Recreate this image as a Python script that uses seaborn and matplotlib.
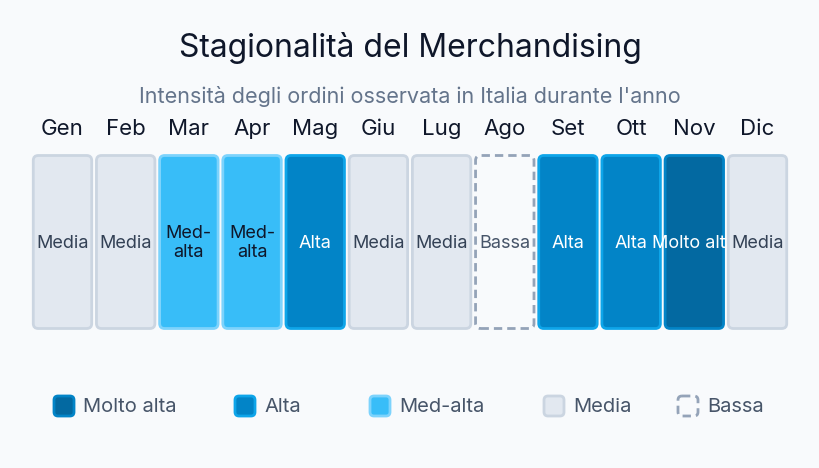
import matplotlib
matplotlib.use("Agg")
import pandas as pd
import matplotlib.pyplot as plt
import seaborn as sns
from matplotlib.patches import FancyBboxPatch

# data
months = ["Gen", "Feb", "Mar", "Apr", "Mag", "Giu", "Lug", "Ago", "Set", "Ott", "Nov", "Dic"]
levels = ["Media", "Media", "Med-alta", "Med-alta", "Alta", "Media",
          "Media", "Bassa", "Alta", "Alta", "Molto alta", "Media"]
legend_order = ["Molto alta", "Alta", "Med-alta", "Media", "Bassa"]

title = "Stagionalità del Merchandising"
subtitle = "Intensità degli ordini osservata in Italia durante l'anno"

BG = "#f8fafc"
fills = {"Molto alta": "#0369a1", "Alta": "#0284c7", "Med-alta": "#38bdf8",
         "Media": "#e2e8f0", "Bassa": BG}
edges = {"Molto alta": "#0284c7", "Alta": "#0ea5e9", "Med-alta": "#7dd3fc",
         "Media": "#cbd5e1", "Bassa": "#94a3b8"}
text_colors = {"Molto alta": "white", "Alta": "white", "Med-alta": "#0f172a",
               "Media": "#334155", "Bassa": "#475569"}

sns.set_theme(style="white")
plt.rcParams["font.family"] = ["Inter", "DejaVu Sans"]

fig = plt.figure(figsize=(8.2, 4.68), dpi=100, facecolor=BG)
W, H = 820, 468

# main strip axes (pixel placement)
left_px, right_px, top_px, bot_px = 30.9, 789.1, 155.5, 328.5
ax = fig.add_axes([left_px / W, 1 - bot_px / H, (right_px - left_px) / W, (bot_px - top_px) / H])
ax.set_facecolor("none")

df = pd.DataFrame({"mese": months, "livello": levels, "valore": [1.0] * len(months)})
sns.barplot(data=df, x="mese", y="valore", order=months, color="#cccccc",
            width=0.925, errorbar=None, ax=ax)
ax.set_ylim(0, 1)
ax.set_xlim(-0.5, len(months) - 0.5)

# px per data unit, for rounded corners
px_x = (right_px - left_px) / len(months)
px_y = bot_px - top_px
aspect = (1 / px_y) / (1 / px_x)
radius = 5 / px_x

for i, bar in enumerate(list(ax.patches)):
    x, y = bar.get_x(), bar.get_y()
    w, h = bar.get_width(), bar.get_height()
    bar.set_visible(False)
    lvl = levels[i]
    box = FancyBboxPatch((x, y), w, h,
                         boxstyle=f"round,pad=0,rounding_size={radius}",
                         mutation_aspect=aspect,
                         facecolor=fills[lvl], edgecolor=edges[lvl], linewidth=2,
                         linestyle=(0, (3, 1.8)) if lvl == "Bassa" else "-",
                         zorder=3 + 2 * i, clip_on=False)
    ax.add_patch(box)
    ax.text(x + w / 2, y + h / 2 - 0.006, lvl.replace("-", "-\n"), ha="center", va="center",
            fontsize=13, color=text_colors[lvl], linespacing=1.1,
            zorder=4 + 2 * i, clip_on=False)

ax.xaxis.tick_top()
ax.tick_params(axis="x", length=0, pad=12, labelsize=16, labelcolor="#0f172a")
ax.set_yticks([])
ax.set_xlabel("")
ax.set_ylabel("")
sns.despine(ax=ax, left=True, bottom=True, top=True, right=True)

# overlay in pixel coords for titles and legend
oax = fig.add_axes([0, 0, 1, 1])
oax.set_xlim(0, W)
oax.set_ylim(H, 0)
oax.axis("off")
oax.patch.set_visible(False)

oax.text(W / 2, 57, title, ha="center", va="baseline", fontsize=23, color="#0f172a")
oax.text(W / 2, 103, subtitle, ha="center", va="baseline", fontsize=15.5, color="#64748b")

legend_x = [54, 235, 370, 544, 678]
for lx, lvl in zip(legend_x, legend_order):
    m = FancyBboxPatch((lx, 396), 20, 20, boxstyle="round,pad=0,rounding_size=4",
                       facecolor=fills[lvl], edgecolor=edges[lvl], linewidth=2,
                       linestyle=(0, (3, 1.8)) if lvl == "Bassa" else "-")
    oax.add_patch(m)
    oax.text(lx + 29, 407, lvl, ha="left", va="center", fontsize=14.5, color="#475569")

fig.savefig("out.png", dpi=100, facecolor=BG)
